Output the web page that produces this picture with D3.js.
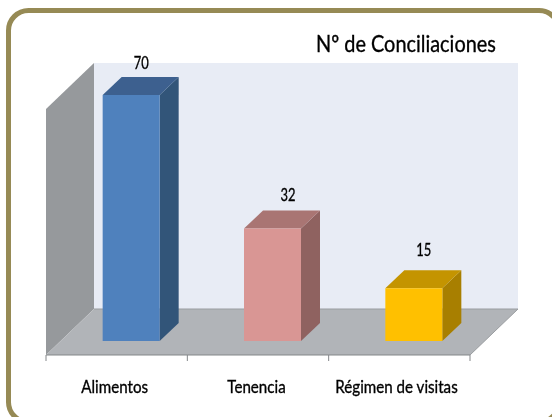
<!DOCTYPE html>
<html><head><meta charset="utf-8">
<script src="https://cdnjs.cloudflare.com/ajax/libs/d3/7.8.5/d3.min.js"></script>
<style>html,body{margin:0;padding:0;background:#fff}svg{display:block}text{font-family:Lato,"Open Sans",sans-serif;fill:#000;stroke:#000;stroke-width:.35px}</style>
</head><body><div id="c"></div>
<script>
const categories = ["Alimentos","Tenencia","Régimen de visitas"];
const values = [70,32,15];
const frontColors = ["#4f81bd","#d99694","#ffc000"];
const sideColors = ["#325479","#8f6261","#a87f00"];
const topColors = ["#3c618f","#a97573","#c49400"];
const chartTitle = "Nº de Conciliaciones";

const W=552,H=417;
const svg=d3.select("#c").append("svg").attr("width",W).attr("height",H);
const defs=svg.append("defs");
defs.append("filter").attr("id","soft").append("feGaussianBlur").attr("stdDeviation",0.35);

svg.append("rect").attr("x",8.5).attr("y",10.5).attr("width",550.5).attr("height",411.5).attr("rx",20)
  .attr("fill","#fff").attr("stroke","#968a55").attr("stroke-width",5);

const depthX=48, depthY=46, barDX=19, barDY=18;
const x=d3.scaleBand().domain(categories).range([46,470]).padding(0);
const y=d3.scaleLinear().domain([0,70]).range([355,109]);
const barW=57;
const barInset=(x.bandwidth()-barW)/2+14.5;
const baseY=341;
const barH=v=>y(0)-y(v);
const g=svg.append("g").attr("filter","url(#soft)");
const poly=(pts,fill)=>g.append("polygon").attr("points",pts.map(p=>p.join(",")).join(" ")).attr("fill",fill);

const y0=y(0),yT=y(70),xL=x.range()[0],xR=x.range()[1];
poly([[xL+depthX,y0-depthY],[xR+depthX,y0-depthY],[xR+depthX,yT-depthY],[xL+depthX,yT-depthY]],"#e8ecf5");
poly([[xL,y0],[xL+depthX,y0-depthY],[xL+depthX,yT-depthY],[xL,yT]],"#96999c");
poly([[xL,y0],[xL+depthX,y0-depthY],[xR+depthX,y0-depthY],[xR,y0]],"#b1b4b8");
g.append("path").attr("d",`M${xL+depthX},${y0-depthY}H${xR+depthX}L${xR},${y0}`).attr("fill","none").attr("stroke","#9a9da0").attr("stroke-width",1);

categories.forEach((c,i)=>{
  const xf=x(c)+barInset, xe=xf+barW, yb=baseY, yt=baseY-barH(values[i]);
  poly([[xe,yb],[xe+barDX,yb-barDY],[xe+barDX,yt-barDY],[xe,yt]],sideColors[i]);
  poly([[xf,yt],[xe,yt],[xe+barDX,yt-barDY],[xf+barDX,yt-barDY]],topColors[i]);
  poly([[xf,yb],[xe,yb],[xe,yt],[xf,yt]],frontColors[i]);
});

const ax=svg.append("g").attr("filter","url(#soft)");
ax.append("line").attr("x1",xL).attr("x2",xR).attr("y1",y0).attr("y2",y0).attr("stroke","#84878a").attr("stroke-width",1.2);
d3.range(categories.length+1).forEach(i=>{
  const tx=xL+i*x.step();
  ax.append("line").attr("x1",tx).attr("x2",tx).attr("y1",y0).attr("y2",y0+6).attr("stroke","#84878a").attr("stroke-width",1);
});

function condense(sel,f){ const n=sel.node(); sel.attr("textLength",n.getComputedTextLength()*f).attr("lengthAdjust","spacingAndGlyphs"); return sel; }
const catShift=[-2,-1.5,-2.8], valShiftX=[10,15.5,10], valShiftY=[26,28,32];
const tg=svg.append("g").attr("filter","url(#soft)");
categories.forEach((c,i)=>{
  condense(tg.append("text").attr("x",x(c)+x.bandwidth()/2+catShift[i]).attr("y",393).attr("text-anchor","middle")
    .attr("font-size",17.5).text(c),0.865);
  condense(tg.append("text").attr("x",x(c)+barInset+barW/2+valShiftX[i]).attr("y",baseY-barH(values[i])-valShiftY[i])
    .attr("text-anchor","middle").attr("font-size",18).text(values[i]),0.72);
});
condense(tg.append("text").attr("x",316).attr("y",52).attr("font-size",23).text(chartTitle),0.865);
</script></body></html>
